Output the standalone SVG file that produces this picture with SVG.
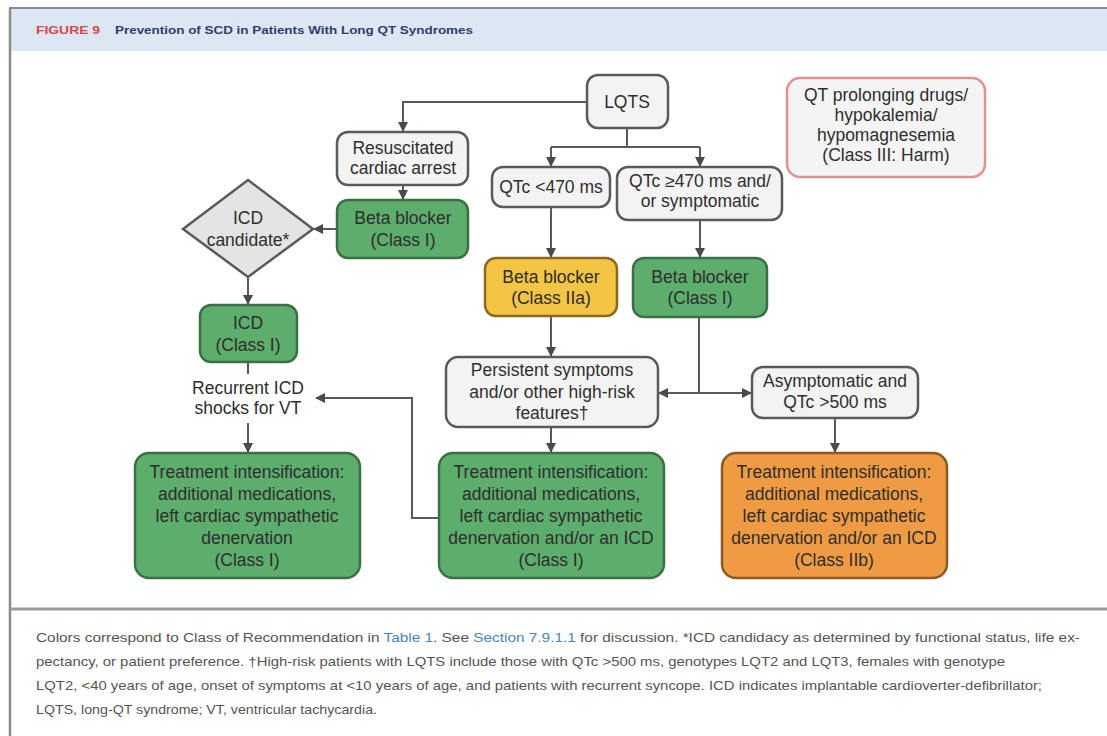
<svg xmlns="http://www.w3.org/2000/svg" width="1107" height="736" viewBox="0 0 1107 736">
<style>
.t{font-family:"Liberation Sans",Arial,sans-serif;font-size:17.5px;fill:#2e2e2e;text-anchor:middle}
.g{fill:#5dad6d;stroke:#3c6f46;stroke-width:2.5}
.y{fill:#f4c444;stroke:#8a6a22;stroke-width:2.5}
.o{fill:#ef9b44;stroke:#8c5a24;stroke-width:2.5}
.w{fill:#f3f3f3;stroke:#5a5a5a;stroke-width:2.5}
.c{fill:none;stroke:#5a5a5a;stroke-width:2}
.cap{font-family:"Liberation Sans",Arial,sans-serif;font-size:13px;fill:#555}
.lnk{fill:#4a86c0}
</style>
<defs>
<marker id="a" viewBox="0 0 10 10" refX="9" refY="5" markerWidth="5" markerHeight="5" orient="auto" markerUnits="strokeWidth">
<path d="M0,0 L10,5 L0,10 z" fill="#4a4a4a"/>
</marker>
</defs>
<rect x="0" y="0" width="1107" height="736" fill="#fff"/>
<rect x="11" y="9" width="1096" height="42" fill="#dde6f3"/>
<line x1="9" y1="8" x2="1107" y2="8" stroke="#8a8a8a" stroke-width="2"/>
<line x1="10" y1="8" x2="10" y2="736" stroke="#8a8a8a" stroke-width="2.5"/>
<line x1="10" y1="609" x2="1107" y2="609" stroke="#9a9a9a" stroke-width="3"/>
<text x="36" y="34" font-family="Liberation Sans,Arial,sans-serif" font-size="11" font-weight="bold" fill="#d8484a" textLength="64" lengthAdjust="spacingAndGlyphs">FIGURE 9</text>
<text x="115" y="34" font-family="Liberation Sans,Arial,sans-serif" font-size="11.5" font-weight="bold" fill="#2b3f6c" textLength="358" lengthAdjust="spacingAndGlyphs">Prevention of SCD in Patients With Long QT Syndromes</text>

<g id="connectors">
<polyline class="c" points="587,102 403,102 403,131" marker-end="url(#a)"/>
<polyline class="c" points="627,128 627,147"/>
<polyline class="c" points="551,147 700,147"/>
<polyline class="c" points="551,147 551,166" marker-end="url(#a)"/>
<polyline class="c" points="700,147 700,166" marker-end="url(#a)"/>
<polyline class="c" points="403,185 403,199" marker-end="url(#a)"/>
<polyline class="c" points="337,229 314,229" marker-end="url(#a)"/>
<polyline class="c" points="248,277 248,304" marker-end="url(#a)"/>
<polyline class="c" points="248,362 248,374"/>
<polyline class="c" points="248,423 248,452" marker-end="url(#a)"/>
<polyline class="c" points="551,207 551,257" marker-end="url(#a)"/>
<polyline class="c" points="700,220 700,257" marker-end="url(#a)"/>
<polyline class="c" points="551,316 551,356" marker-end="url(#a)"/>
<polyline class="c" points="699,317 699,393"/>
<polyline class="c" points="699,393 659,393" marker-end="url(#a)"/>
<polyline class="c" points="699,393 751,393" marker-end="url(#a)"/>
<polyline class="c" points="551,427 551,452" marker-end="url(#a)"/>
<polyline class="c" points="835,418 835,452" marker-end="url(#a)"/>
<polyline class="c" points="439,518 412,518 412,398 316,398" marker-end="url(#a)"/>
</g>

<g id="lqts">
<rect class="w" x="587" y="75" width="81" height="53" rx="11"/>
<text class="t" x="627" y="108">LQTS</text>
</g>
<g id="qt-harm">
<rect x="787" y="78" width="198" height="99" rx="13" fill="#f4f4f4" stroke="#e39090" stroke-width="2.5"/>
<text class="t" x="886" y="101">QT prolonging drugs/</text>
<text class="t" x="886" y="121">hypokalemia/</text>
<text class="t" x="886" y="141">hypomagnesemia</text>
<text class="t" x="886" y="161">(Class III: Harm)</text>
</g>
<g id="resuscitated">
<rect class="w" x="337" y="132" width="131" height="53" rx="11"/>
<text class="t" x="403" y="154">Resuscitated</text>
<text class="t" x="403" y="174">cardiac arrest</text>
</g>
<g id="qtc-low">
<rect class="w" x="492" y="167" width="118" height="40" rx="11"/>
<text class="t" x="551" y="193">QTc &lt;470 ms</text>
</g>
<g id="qtc-high">
<rect class="w" x="617" y="167" width="165" height="53" rx="11"/>
<text class="t" x="700" y="187">QTc ≥470 ms and/</text>
<text class="t" x="700" y="207">or symptomatic</text>
</g>
<g id="bb-class1-left">
<rect class="g" x="337" y="200" width="131" height="58" rx="11"/>
<text class="t" x="403" y="224">Beta blocker</text>
<text class="t" x="403" y="246">(Class I)</text>
</g>
<g id="icd-candidate">
<polygon points="248,180 313,229 248,277 183,229" fill="#e4e4e4" stroke="#5a5a5a" stroke-width="2.5"/>
<text class="t" x="248" y="224">ICD</text>
<text class="t" x="248" y="246">candidate*</text>
</g>
<g id="bb-class2a">
<rect class="y" x="485" y="258" width="132" height="58" rx="11"/>
<text class="t" x="551" y="283">Beta blocker</text>
<text class="t" x="551" y="304">(Class IIa)</text>
</g>
<g id="bb-class1-mid">
<rect class="g" x="633" y="258" width="134" height="59" rx="11"/>
<text class="t" x="700" y="283">Beta blocker</text>
<text class="t" x="700" y="304">(Class I)</text>
</g>
<g id="icd">
<rect class="g" x="200" y="305" width="97" height="57" rx="11"/>
<text class="t" x="248" y="329">ICD</text>
<text class="t" x="248" y="351">(Class I)</text>
</g>
<g id="recurrent">
<text class="t" x="248" y="394">Recurrent ICD</text>
<text class="t" x="248" y="414">shocks for VT</text>
</g>
<g id="persistent">
<rect class="w" x="446" y="357" width="212" height="70" rx="12"/>
<text class="t" x="552" y="376">Persistent symptoms</text>
<text class="t" x="552" y="398">and/or other high-risk</text>
<text class="t" x="552" y="419">features†</text>
</g>
<g id="asymptomatic">
<rect class="w" x="752" y="367" width="166" height="51" rx="11"/>
<text class="t" x="835" y="387">Asymptomatic and</text>
<text class="t" x="835" y="408">QTc &gt;500 ms</text>
</g>
<g id="treat-left">
<rect class="g" x="135" y="453" width="225" height="125" rx="14"/>
<text class="t" x="247" y="478">Treatment intensification:</text>
<text class="t" x="247" y="500">additional medications,</text>
<text class="t" x="247" y="522">left cardiac sympathetic</text>
<text class="t" x="247" y="544">denervation</text>
<text class="t" x="247" y="566">(Class I)</text>
</g>
<g id="treat-mid">
<rect class="g" x="439" y="453" width="225" height="125" rx="14"/>
<text class="t" x="551" y="478">Treatment intensification:</text>
<text class="t" x="551" y="500">additional medications,</text>
<text class="t" x="551" y="522">left cardiac sympathetic</text>
<text class="t" x="551" y="544">denervation and/or an ICD</text>
<text class="t" x="551" y="566">(Class I)</text>
</g>
<g id="treat-right">
<rect class="o" x="722" y="453" width="225" height="125" rx="14"/>
<text class="t" x="834" y="478">Treatment intensification:</text>
<text class="t" x="834" y="500">additional medications,</text>
<text class="t" x="834" y="522">left cardiac sympathetic</text>
<text class="t" x="834" y="544">denervation and/or an ICD</text>
<text class="t" x="834" y="566">(Class IIb)</text>
</g>

<text class="cap" x="36" y="642" textLength="1044" lengthAdjust="spacingAndGlyphs">Colors correspond to Class of Recommendation in <tspan class="lnk">Table 1</tspan>. See <tspan class="lnk">Section 7.9.1.1</tspan> for discussion. *ICD candidacy as determined by functional status, life ex-</text>
<text class="cap" x="36" y="666" textLength="969" lengthAdjust="spacingAndGlyphs">pectancy, or patient preference. †High-risk patients with LQTS include those with QTc &gt;500 ms, genotypes LQT2 and LQT3, females with genotype</text>
<text class="cap" x="36" y="690" textLength="1006" lengthAdjust="spacingAndGlyphs">LQT2, &lt;40 years of age, onset of symptoms at &lt;10 years of age, and patients with recurrent syncope. ICD indicates implantable cardioverter-defibrillator;</text>
<text class="cap" x="36" y="714" textLength="341" lengthAdjust="spacingAndGlyphs">LQTS, long-QT syndrome; VT, ventricular tachycardia.</text>
</svg>
